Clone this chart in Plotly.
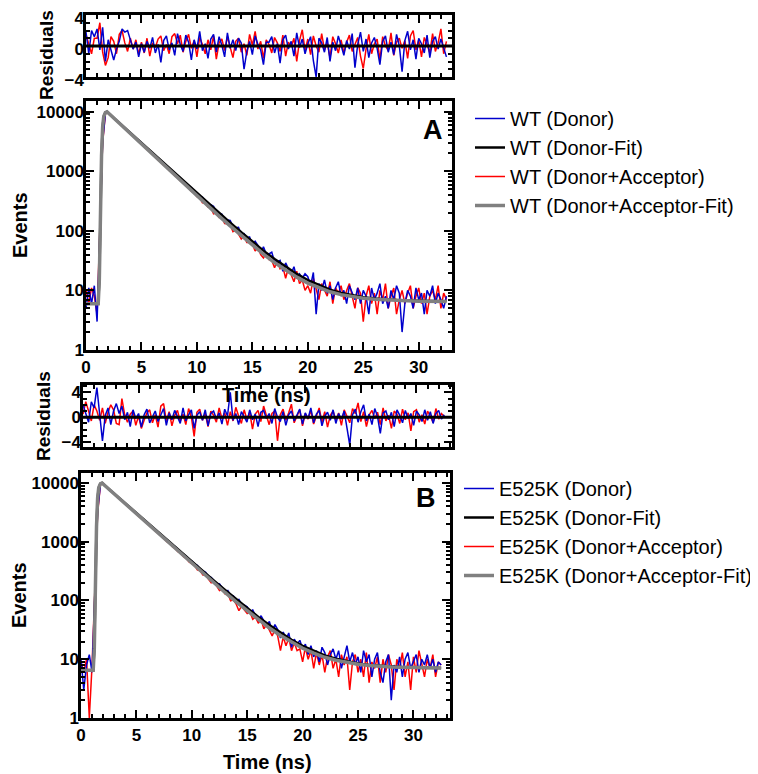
import plotly.graph_objects as go

# ---------------- data ----------------
TIME_STEP_NS = 0.25
N_CHANNELS = 131
TIME_NS = [round(i * TIME_STEP_NS, 2) for i in range(N_CHANNELS)]

FIT_T = [0, 1.1, 1.2, 1.3, 1.4, 1.5, 1.6, 1.75, 1.9, 2.5, 3, 4, 5, 6, 7, 8, 9, 10, 11, 12, 13,
         14, 15, 16, 17, 18, 19, 20, 21, 22, 23, 24, 25, 26, 27, 28, 29, 30, 31, 32, 32.5]

WT_DONOR = [5, 11, 6, 12, 3, 150, 3200, 9300, 9800, 8650,
            7950, 7120, 6540, 5880, 5390, 4840, 4430, 3970, 3650, 3270,
            3000, 2690, 2470, 2200, 2030, 1810, 1670, 1490, 1380, 1220,
            1140, 1000, 940, 825, 775, 678, 640, 555, 530, 458,
            440, 374, 368, 318, 274, 274, 258, 206, 195, 191,
            153, 152, 149, 119, 113, 115, 87, 90, 76, 79,
            59, 67, 57, 43, 54, 41, 41, 44, 30, 30,
            32, 21, 29, 23, 19, 25, 16, 19, 16, 19,
            17, 12, 20, 4, 13, 10, 15, 9, 12, 7,
            11, 14, 8, 10, 6, 12, 9, 7, 11, 6,
            10, 8, 4, 11, 7, 9, 13, 6, 8, 5,
            10, 7, 12, 9, 2, 6, 10, 8, 5, 11,
            7, 9, 4, 10, 8, 12, 6, 9, 7, 5, 8]
WT_DA = [10, 6, 11, 8, 4, 120, 3000, 9200, 9800, 8690,
         7820, 7130, 6390, 5840, 5220, 4770, 4260, 3900, 3480, 3190,
         2850, 2620, 2320, 2140, 1900, 1750, 1550, 1435, 1265, 1175,
         1035, 962, 848, 792, 694, 648, 566, 532, 462, 436,
         377, 366, 296, 294, 252, 249, 194, 201, 168, 171,
         133, 132, 128, 97, 103, 88, 73, 82, 64, 64,
         60, 46, 53, 40, 35, 42, 33, 32, 24, 31,
         23, 25, 16, 24, 18, 14, 21, 13, 15, 10,
         12, 9, 16, 11, 7, 13, 10, 8, 14, 6,
         11, 9, 12, 7, 10, 13, 8, 5, 11, 9,
         3, 8, 12, 6, 9, 4, 10, 7, 13, 5,
         8, 11, 4, 7, 10, 6, 9, 12, 5, 8,
         11, 6, 9, 4, 8, 10, 7, 12, 5, 9, 7]
WT_DONOR_FIT = [6.0, 6.0, 15, 250, 1800, 5500, 8300, 9700, 10000, 7900, 6510, 4400, 2980, 2010,
                1360, 925, 627, 427, 291, 199, 137, 94.5, 66, 46.6, 33.6, 24.8, 18.9, 14.9,
                12.2, 10.3, 9.1, 8.3, 7.7, 7.3, 7.0, 6.9, 6.8, 6.7, 6.6, 6.6, 6.6]
WT_DA_FIT = [6.0, 6.0, 15, 250, 1800, 5500, 8300, 9700, 10000, 7850, 6420, 4290, 2870, 1920,
             1280, 862, 578, 389, 262, 177, 121, 83, 57.5, 40.6, 29.3, 21.7, 16.7, 13.3,
             11.1, 9.5, 8.5, 7.9, 7.4, 7.1, 6.9, 6.8, 6.7, 6.6, 6.6, 6.5, 6.5]

E_DONOR = [10, 3, 8, 12, 6, 200, 3300, 9400, 9850, 8720,
           7980, 7200, 6600, 5940, 5460, 4900, 4500, 4060, 3720, 3350,
           3070, 2770, 2540, 2290, 2100, 1890, 1735, 1560, 1430, 1290,
           1195, 1065, 985, 880, 820, 728, 676, 600, 565, 496,
           468, 411, 396, 337, 316, 302, 252, 246, 216, 187,
           192, 166, 140, 148, 123, 120, 100, 104, 85, 83,
           78, 63, 69, 55, 46, 55, 45, 37, 44, 30,
           39, 32, 23, 29, 22, 28, 16, 22, 18, 21,
           15, 18, 12, 17, 11, 14, 9, 16, 13, 8,
           12, 15, 10, 14, 7, 11, 17, 9, 13, 8,
           11, 6, 14, 9, 12, 5, 10, 13, 6, 4,
           9, 12, 2, 8, 6, 11, 5, 10, 13, 7,
           9, 12, 6, 10, 8, 12, 7, 10, 6, 9, 8]
E_DA = [9, 6, 10, 1, 8, 140, 3000, 9300, 9800, 8680,
        7930, 7120, 6540, 5870, 5380, 4830, 4420, 3970, 3640, 3270,
        3000, 2680, 2460, 2200, 2020, 1815, 1660, 1490, 1370, 1225,
        1130, 1005, 935, 828, 768, 680, 635, 556, 524, 455,
        419, 398, 333, 321, 272, 274, 232, 200, 210, 173,
        148, 153, 129, 131, 99, 103, 87, 67, 81, 69,
        60, 64, 48, 52, 41, 48, 33, 39, 31, 25,
        32, 25, 14, 24, 17, 23, 14, 19, 14, 15,
        9, 16, 10, 14, 7, 13, 8, 12, 6, 11,
        14, 7, 10, 5, 12, 8, 11, 3, 9, 12,
        6, 10, 5, 13, 4, 9, 7, 11, 4, 10,
        6, 12, 8, 3, 10, 7, 13, 5, 9, 3,
        11, 6, 14, 8, 5, 10, 7, 12, 5, 9, 8]
E_DONOR_FIT = [6.5, 6.5, 15, 250, 1800, 5500, 8300, 9700, 10000, 7950, 6570, 4480, 3060, 2090,
               1424, 978, 670, 459, 316, 218, 151, 105, 74, 52.6, 38.2, 28.3, 21.5, 16.9,
               13.8, 11.6, 10.2, 9.2, 8.5, 8.0, 7.7, 7.5, 7.3, 7.2, 7.15, 7.1, 7.1]
E_DA_FIT = [6.5, 6.5, 15, 250, 1800, 5500, 8300, 9700, 10000, 7900, 6510, 4400, 2980, 2010,
            1360, 925, 627, 428, 292, 200, 137, 95, 66.5, 47, 34, 25.3, 19.4, 15.4,
            12.7, 10.8, 9.6, 8.8, 8.2, 7.8, 7.5, 7.4, 7.3, 7.2, 7.1, 7.1, 7.1]

RES_WT_DONOR = [1.8, -1.0, 2.0, 1.2, 2.2, -0.5, 2.4, -2.0, 0.8, -0.6,
                -1.8, -0.4, 0.6, 2.2, 1.8, 2.0, 0.9, -0.4, 0.5, -1.4,
                0.3, -0.8, 0.6, -0.3, 1.1, -0.9, 0.2, -2.1, 0.7, 1.3,
                -0.5, 0.4, -1.2, 1.6, 0.2, -0.7, 1.4, 0.5, -1.8, 0.8,
                -0.4, 1.9, -0.6, 0.3, -1.6, 0.9, 1.5, -0.8, 1.2, 0.1,
                -1.4, 1.7, -0.3, 0.8, -0.6, 1.0, 0.4, -3.0, -0.7, 0.6,
                -1.1, 1.3, 0.2, -0.5, -2.4, 0.5, 0.5, 1.2, -0.9, 0.3,
                -2.2, 0.8, 1.4, -0.4, 0.6, -1.3, 1.7, -0.2, 0.9, -1.0,
                0.3, 1.2, -1.9, -4.0, 1.0, 0.4, -0.8, 1.1, -2.0, 0.5,
                -0.6, 1.3, 0.1, -1.2, 0.7, -0.4, 1.6, -2.8, 0.2, 1.8,
                -0.7, 0.9, -1.5, 0.4, 1.1, -0.3, -2.4, 0.6, 1.3, -0.8,
                0.5, -1.1, 1.5, 0.0, -3.3, 0.7, 1.9, -0.5, 0.8, -1.7,
                1.0, 0.3, -0.9, 1.4, -1.5, 0.6, 1.2, -0.4, 0.9, -0.2, -1.4]
RES_WT_DA = [1.5, 0.2, -1.0, 1.0, 1.0, 3.0, -0.8, -2.5, -1.5, 1.2,
             0.6, -1.0, 1.5, 2.0, 0.4, -0.7, 1.0, -0.4, 0.8, -1.1,
             0.5, -0.9, 1.0, -1.3, 0.4, -0.2, 0.9, 1.3, -0.6, 0.2,
             -1.0, 1.2, 1.6, 0.3, 1.4, -0.8, 0.6, 1.5, -0.3, 0.7,
             -1.4, 1.1, 0.2, -1.0, 0.8, -0.5, 1.3, -1.7, 0.4, 0.9,
             -0.6, 1.2, -0.2, -1.5, 0.6, 1.0, -0.8, 0.3, -1.2, 1.5,
             0.1, 1.9, -0.4, 0.6, -1.6, 0.8, 0.2, -0.9, 1.1, 0.4,
             -0.7, 1.4, -1.3, 0.5, -0.1, 1.0, -2.0, 0.7, 2.1, -0.6,
             0.9, -1.1, 1.3, 0.0, -0.8, 1.6, -0.5, 0.4, -1.5, 1.2,
             0.3, -0.9, 0.8, -0.9, 0.5, 1.4, -0.7, 0.2, 1.1, -1.3,
             -2.9, -0.4, 1.5, -1.0, 0.3, 0.9, -1.8, 1.2, 0.0, -0.6,
             1.7, -1.2, 0.5, 1.0, -0.3, 0.7, -1.6, 1.3, 2.0, -0.5,
             0.8, -1.4, 1.1, 0.2, -0.9, 1.6, -0.7, 0.4, 2.2, -1.0, 0.6]
RES_E_DONOR = [2.0, 0.5, -0.8, 2.5, 1.5, 4.8, 0.5, -3.8, 0.3, 1.5,
               -1.2, 1.0, 2.2, 0.6, 1.8, -0.4, 0.8, -1.5, 1.2, -0.2,
               0.6, -1.6, 0.4, 1.3, -0.9, 0.2, 1.0, -0.7, 0.5, 1.4,
               -1.3, 0.7, -0.4, 1.1, 0.1, -1.0, 1.5, -0.6, 0.4, 1.2,
               -1.8, 0.3, 0.9, -0.5, 1.2, -1.4, 0.6, 1.0, -0.3, 0.7,
               -1.1, 1.3, 0.2, 4.0, -0.5, 0.6, -1.2, 0.9, 0.1, -0.8,
               1.2, -0.4, 0.5, -1.5, 0.8, 1.1, -0.2, 0.6, -1.0, 1.4,
               0.0, -0.7, 0.9, -1.3, 0.4, 1.0, -0.6, 0.3, 1.3, -1.1,
               0.7, -0.2, 1.5, -0.9, 0.5, 1.1, -1.4, 0.2, 0.8, -0.5,
               1.2, -1.0, 0.6, -0.3, 1.0, -1.7, -4.5, 0.4, 1.3, -0.8,
               0.9, 2.0, -0.6, 0.5, -1.2, 1.4, 0.1, -2.6, 0.7, 1.0,
               -0.4, 0.8, -1.5, 1.2, 0.3, -0.9, 1.1, -0.2, 0.6, -1.3,
               1.0, 0.4, -0.7, 1.2, -0.5, 0.9, -1.0, 0.6, 1.1, -0.3, 0.4]
RES_E_DA = [0.5, 2.5, 1.0, -0.6, 2.0, 1.0, -0.5, 1.5, -1.0, 0.8,
            2.0, 1.2, -1.0, -1.2, 3.0, 0.4, -0.8, 0.5, 1.0, -1.3,
            0.2, -1.8, -0.5, 0.7, 1.2, -0.9, 0.4, -1.6, 1.8, 2.2,
            -0.6, 0.9, -1.4, 0.3, 1.1, -0.7, 0.5, -1.2, 1.4, 0.0,
            -3.1, 0.8, 1.3, -0.5, 0.6, -1.5, 1.0, 0.3, -0.8, 1.5,
            -0.2, 0.7, -1.3, 0.9, -0.6, 1.6, 0.2, -1.0, 1.2, -0.4,
            0.8, -1.9, 0.5, 1.1, -0.7, 1.8, 0.3, -1.2, 0.6, 1.0,
            -3.8, 0.4, 1.3, -0.5, 0.7, 2.1, -0.9, 0.2, 1.2, -1.4,
            0.6, -0.3, 1.1, -1.1, 0.4, 1.5, -0.8, 0.9, -1.6, 0.3,
            1.0, -0.5, 0.7, -1.3, 1.2, 0.1, -0.9, 1.4, 0.6, 2.3,
            -0.7, 0.9, -1.5, 0.4, 1.1, -0.2, 0.8, -1.2, 1.5, -0.6,
            0.3, -1.8, 1.0, 0.5, -1.0, 1.3, -0.4, 0.7, -2.2, 0.9,
            1.2, -0.8, 0.4, -1.1, 1.0, 0.2, -0.9, 1.4, -0.3, 0.6, 0.1]

for s in (WT_DONOR, WT_DA, E_DONOR, E_DA, RES_WT_DONOR, RES_WT_DA, RES_E_DONOR, RES_E_DA):
    assert len(s) == N_CHANNELS, len(s)
for s in (WT_DONOR_FIT, WT_DA_FIT, E_DONOR_FIT, E_DA_FIT):
    assert len(s) == len(FIT_T), len(s)

LOG_TICKS = [1, 10, 100, 1000, 10000]
LOG_TICK_TEXT = ["1", "10", "100", "1000", "10000"]
LOG_MINOR = [m * d for d in (1, 10, 100, 1000) for m in range(2, 10)] + [20000]

BLUE = "#0000CD"
RED = "#FF0000"
GRAY = "#808080"
FONT = "Liberation Sans"

# the page body adds an 8 px margin; size the figure so it fills the 758x774 window
PAGE_OFF = 8
W, H = 758 - PAGE_OFF, 774 - PAGE_OFF

def fx(p):
    return (p - PAGE_OFF) / W

def fy(p):
    return 1 - (p - PAGE_OFF) / H

def px_x(a, b):
    return [fx(a), fx(b)]

def px_y(top, bottom):
    return [fy(bottom), fy(top)]

fig = go.Figure()

# residuals WT
fig.add_trace(go.Scatter(x=TIME_NS, y=RES_WT_DA, mode="lines", line=dict(color=RED, width=1.5),
                         showlegend=False, xaxis="x", yaxis="y"))
fig.add_trace(go.Scatter(x=TIME_NS, y=RES_WT_DONOR, mode="lines", line=dict(color=BLUE, width=1.5),
                         showlegend=False, xaxis="x", yaxis="y"))
# decay WT
fig.add_trace(go.Scatter(x=TIME_NS, y=WT_DA, mode="lines", line=dict(color=RED, width=1.5),
                         name="WT (Donor+Acceptor)", legendrank=3, legend="legend", xaxis="x2", yaxis="y2"))
fig.add_trace(go.Scatter(x=TIME_NS, y=WT_DONOR, mode="lines", line=dict(color=BLUE, width=1.5),
                         name="WT (Donor)", legendrank=1, legend="legend", xaxis="x2", yaxis="y2"))
fig.add_trace(go.Scatter(x=FIT_T, y=WT_DONOR_FIT, mode="lines", line=dict(color="black", width=2.5),
                         name="WT (Donor-Fit)", legendrank=2, legend="legend", xaxis="x2", yaxis="y2"))
fig.add_trace(go.Scatter(x=FIT_T, y=WT_DA_FIT, mode="lines", line=dict(color=GRAY, width=3.5),
                         name="WT (Donor+Acceptor-Fit)", legendrank=4, legend="legend", xaxis="x2", yaxis="y2"))
# residuals E525K
fig.add_trace(go.Scatter(x=TIME_NS, y=RES_E_DA, mode="lines", line=dict(color=RED, width=1.5),
                         showlegend=False, xaxis="x3", yaxis="y3"))
fig.add_trace(go.Scatter(x=TIME_NS, y=RES_E_DONOR, mode="lines", line=dict(color=BLUE, width=1.5),
                         showlegend=False, xaxis="x3", yaxis="y3"))
# decay E525K
fig.add_trace(go.Scatter(x=TIME_NS, y=E_DA, mode="lines", line=dict(color=RED, width=1.5),
                         name="E525K (Donor+Acceptor)", legendrank=3, legend="legend2", xaxis="x4", yaxis="y4"))
fig.add_trace(go.Scatter(x=TIME_NS, y=E_DONOR, mode="lines", line=dict(color=BLUE, width=1.5),
                         name="E525K (Donor)", legendrank=1, legend="legend2", xaxis="x4", yaxis="y4"))
fig.add_trace(go.Scatter(x=FIT_T, y=E_DONOR_FIT, mode="lines", line=dict(color="black", width=2.5),
                         name="E525K (Donor-Fit)", legendrank=2, legend="legend2", xaxis="x4", yaxis="y4"))
fig.add_trace(go.Scatter(x=FIT_T, y=E_DA_FIT, mode="lines", line=dict(color=GRAY, width=3.5),
                         name="E525K (Donor+Acceptor-Fit)", legendrank=4, legend="legend2", xaxis="x4", yaxis="y4"))

tickfont = dict(family=FONT, size=17, color="black", weight="bold")
common = dict(showline=True, linecolor="black", linewidth=2.5, mirror="ticks", ticks="inside",
              ticklen=8, tickwidth=2, tickcolor="black", showgrid=False, zeroline=False,
              tickfont=tickfont, automargin=False, ticklabeloverflow="allow")
ycommon = dict(common, ticklabelstandoff=-4)
minor_lin = dict(ticks="inside", ticklen=4, tickwidth=2, tickcolor="black", dtick=1, tick0=0, showgrid=False)
minor_log = dict(ticks="inside", ticklen=4, tickwidth=2, tickcolor="black", tickmode="array",
                 tickvals=LOG_MINOR, showgrid=False)

legend_font = dict(family=FONT, size=20, color="black")
fig.update_layout(
    width=W, height=H, margin=dict(l=0, r=0, t=0, b=0, autoexpand=False),
    paper_bgcolor="white", plot_bgcolor="white",
    font=dict(family=FONT, color="black"),
    xaxis=dict(domain=px_x(86, 452), range=[0, 33], anchor="y", dtick=5, tick0=0,
               showticklabels=False, minor=minor_lin, **common),
    yaxis=dict(domain=px_y(15, 77), range=[-4, 4], anchor="x", tickvals=[-4, 0, 4],
               ticklabelshift=3, minor=minor_lin, **ycommon),
    xaxis2=dict(domain=px_x(86, 452), range=[0, 33], anchor="y2", dtick=5, tick0=0,
                minor=minor_lin, **common),
    yaxis2=dict(domain=px_y(101, 350), type="log", range=[0, 4.18], anchor="x2",
                tickvals=LOG_TICKS, ticktext=LOG_TICK_TEXT, minor=minor_log, **ycommon),
    xaxis3=dict(domain=px_x(83, 452), range=[0, 33.2], anchor="y3", dtick=5, tick0=0,
                showticklabels=False, minor=minor_lin, **common),
    yaxis3=dict(domain=px_y(385, 447), range=[-4.8, 5.2], anchor="x3", tickvals=[-4, 0, 4],
                minor=minor_lin, **ycommon),
    xaxis4=dict(domain=px_x(81, 450), range=[0, 33.3], anchor="y4", dtick=5, tick0=0,
                minor=minor_lin, **common),
    yaxis4=dict(domain=px_y(473, 718), type="log", range=[0, 4.17], anchor="x4",
                tickvals=LOG_TICKS, ticktext=LOG_TICK_TEXT, minor=minor_log, **ycommon),
    legend=dict(x=fx(470), xanchor="left", y=fy(99), yanchor="top",
                xref="container", yref="container",
                font=legend_font, bgcolor="rgba(0,0,0,0)",
                tracegroupgap=0, traceorder="normal"),
    legend2=dict(x=fx(459), xanchor="left", y=fy(469), yanchor="top",
                 xref="container", yref="container",
                 font=legend_font, bgcolor="rgba(0,0,0,0)",
                 tracegroupgap=0, traceorder="normal"),
)

for yref in ("y", "y3"):
    fig.add_shape(type="line", xref=("x" if yref == "y" else "x3") + " domain", yref=yref,
                  x0=0, x1=1, y0=0, y1=0, line=dict(color="black", width=3), layer="above")

title_font = dict(family=FONT, size=20, color="black", weight="bold")
res_font = dict(family=FONT, size=19, color="black", weight="bold")
ann = [
    ("Residuals", 46, 55, -90, res_font),
    ("Residuals", 43, 416, -90, res_font),
    ("Events", 20, 225, -90, title_font),
    ("Events", 19, 595, -90, title_font),
    ("Time (ns)", 266, 395, 0, title_font),
    ("Time (ns)", 267, 762, 0, title_font),
]
for text, xp, yp, ang, f in ann:
    fig.add_annotation(text=text, x=fx(xp), y=fy(yp), xref="paper", yref="paper",
                       showarrow=False, textangle=ang, font=f,
                       xanchor="center", yanchor="middle")
for text, xp, yp in (("A", 433, 130), ("B", 426, 498)):
    fig.add_annotation(text=text, x=fx(xp), y=fy(yp), xref="paper", yref="paper",
                       showarrow=False, font=dict(family=FONT, size=27, color="black", weight="bold"),
                       xanchor="center", yanchor="middle")

fig.write_html("out.html", config={"responsive": False})
